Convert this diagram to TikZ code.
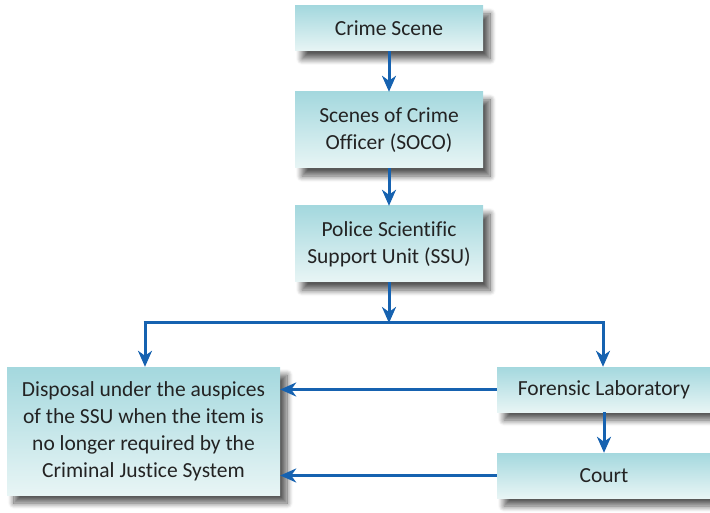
\documentclass[tikz,border=0pt]{standalone}
\usepackage{fontspec}
\setmainfont[Ligatures = NoCommon]{Carlito}
\usetikzlibrary{arrows.meta,shadows.blur}
\definecolor{boxtop}{RGB}{164,216,222}
\definecolor{boxbot}{RGB}{232,245,245}
\definecolor{flowblue}{RGB}{22,98,176}
\definecolor{txtgrey}{RGB}{35,35,35}
\tikzset{
	stagebox/.style = {rectangle, top color = boxtop, bottom color = boxbot, text = txtgrey,
		align = center, font = \fontsize{21.5}{27}\selectfont, inner sep = 0pt,
		blur shadow = {shadow xshift = 7pt, shadow yshift = -8pt, shadow blur steps = 10,
			shadow blur radius = 6pt, shadow opacity = 65}},
	flow/.style = {line width = 3pt, draw = flowblue, -{Stealth[length = 16pt, width = 14pt, inset = 5pt]}},
	bus/.style = {line width = 3pt, draw = flowblue}
}
\begin{document}
\begin{tikzpicture}[x = 1pt, y = -1pt]
		\useasboundingbox (0,0) rectangle (710,513);
		\node [stagebox, minimum width = 188pt, minimum height = 45pt](crime) at (389, 28.5) {Crime Scene};
		\node [stagebox, minimum width = 188pt, minimum height = 76pt](soco) at (389, 130) {Scenes of Crime\\Officer (SOCO)};
		\node [stagebox, minimum width = 188pt, minimum height = 76pt](ssu) at (389, 244) {Police Scientific\\Support Unit (SSU)};
		\node [stagebox, minimum width = 273pt, minimum height = 128pt](disposal) at (143.5, 431) {Disposal under the auspices\\of the SSU when the item is\\no longer required by the\\Criminal Justice System};
		\node [stagebox, minimum width = 214pt, minimum height = 45pt](lab) at (604, 389.5) {Forensic Laboratory};
		\node [stagebox, minimum width = 214pt, minimum height = 45pt](court) at (604, 475.5) {Court};
		\coordinate (split) at (389, 323);
		\coordinate (splitL) at (145, 323);
		\coordinate (splitR) at (603, 323);
		\draw [flow] (crime) -- (soco);
		\draw [flow] (soco) -- (ssu);
		\draw [flow] (ssu) -- (split);
		\draw [bus] ([xshift = -1.5pt]splitL) -- ([xshift = 1.5pt]splitR);
		\draw [flow] (splitL) -- (splitL |- disposal.north);
		\draw [flow] (splitR) -- (splitR |- lab.north);
		\draw [flow] (lab) -- (court);
		\draw [flow] (lab.west) -- (lab.west -| disposal.east);
		\draw [flow] (court.west) -- (court.west -| disposal.east);
\end{tikzpicture}
\end{document}
